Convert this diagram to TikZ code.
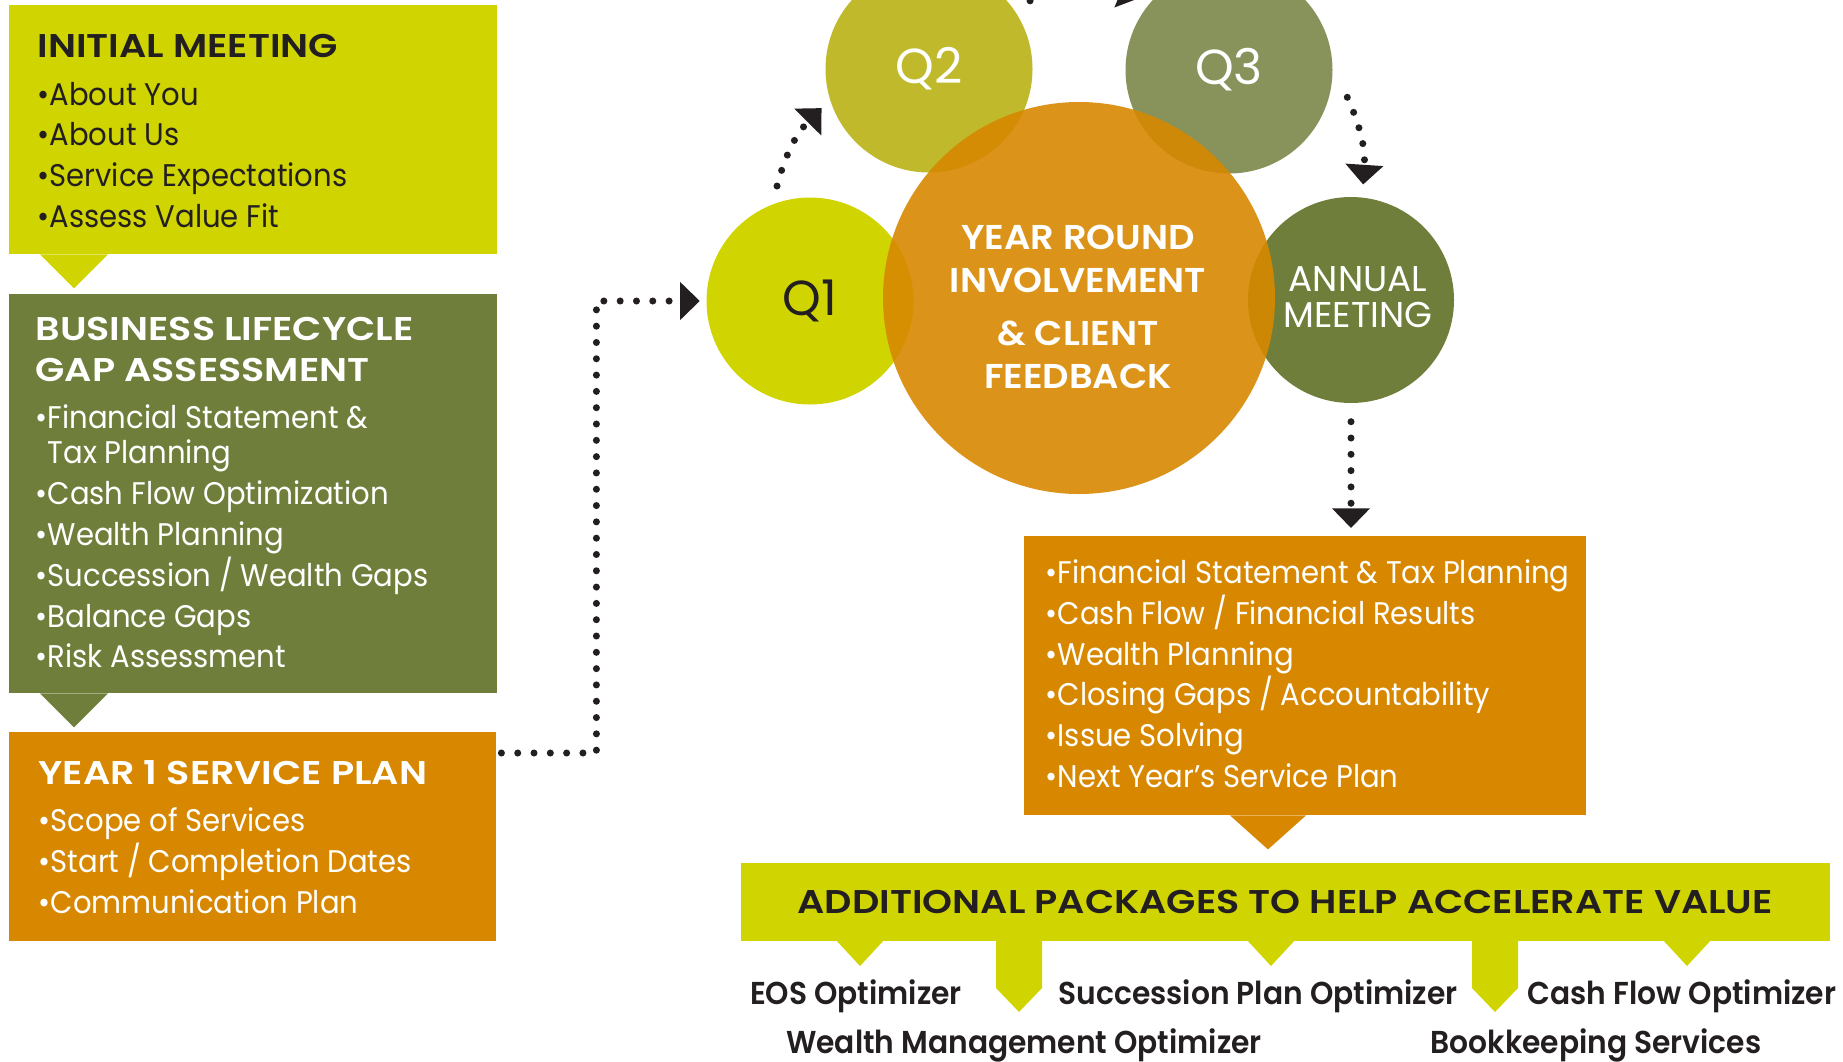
\documentclass[tikz,border=0pt]{standalone}
\usepackage{fontspec}
\setmainfont{Poppins}[FakeStretch=0.93]
\newfontfamily\plainfont{Poppins}
\newfontfamily\headfont{Poppins SemiBold}[FakeStretch=1.16]
\newfontfamily\hubfont{Poppins SemiBold}[FakeStretch=1.07]
\newfontfamily\tagfont{Poppins SemiBold}[FakeStretch=0.94]
\usetikzlibrary{arrows.meta,calc,positioning}

\definecolor{lime}{HTML}{D0D400}
\definecolor{olive}{HTML}{6F7F3B}
\definecolor{amber}{HTML}{D78800}
\definecolor{mustard}{HTML}{BFB92B}
\definecolor{sage}{HTML}{87935A}
\definecolor{ink}{HTML}{231F20}

\tikzset{
  panel/.style={rectangle, anchor=north west, inner sep=0pt},
  boxtext/.style={anchor=north west, inner sep=0pt, align=left, font=\fontsize{8.9}{11.6}\selectfont},
  ball/.style={circle, inner sep=0pt},
  quarter/.style={ball, minimum size=20.7mm, font=\plainfont\fontsize{14}{14}\selectfont},
  flow/.style={ink, line width=2pt, line cap=round, dash pattern=on 0pt off 4.64pt,
    -{Triangle[length=5.6pt,width=10.5pt]}},
  tag/.style={anchor=base, text=ink, font=\tagfont\fontsize{9}{10}\selectfont},
}
\newcommand{\boxtitle}[1]{{\headfont\fontsize{9.35}{11.6}\selectfont #1}}

\begin{document}
\begin{tikzpicture}[x=0.1mm, y=-0.1mm]
    \useasboundingbox (0,0) rectangle (1843,1061);
    \clip (0,0) rectangle (1843,1061);

    % left column
    \node[panel, fill=lime, minimum width=48.8mm, minimum height=24.9mm] (meet) at (8,4) {};
    \fill[lime] ([xshift=3.2mm]meet.south west) -- ++(34,34) -- ++(34,-34) -- cycle;
    \node[boxtext, text=ink] (meettext) at (37,34)
        {\boxtitle{INITIAL MEETING}\\[1.8pt]•About You\\•About Us\\•Service Expectations\\•Assess Value Fit};

    \node[panel, fill=olive, minimum width=48.8mm, minimum height=39.9mm] (gap) at (8,293) {};
    \fill[olive] ([xshift=3.2mm]gap.south west) -- ++(34,34) -- ++(34,-34) -- cycle;
    \node[boxtext, text=white] (gaptext) at (35,317)
        {\boxtitle{BUSINESS LIFECYCLE}\\\boxtitle{GAP ASSESSMENT}\\[1.8pt]•Financial Statement \&\\[-1.6pt]
         \hphantom{•}Tax Planning\\•Cash Flow Optimization\\•Wealth Planning\\•Succession / Wealth Gaps\\
         •Balance Gaps\\•Risk Assessment};

    \node[panel, fill=amber, minimum width=48.7mm, minimum height=20.9mm] (plan) at (8,731) {};
    \node[boxtext, text=white] (plantext) at (38,760)
        {\boxtitle{YEAR 1 SERVICE PLAN}\\[1.8pt]•Scope of Services\\•Start / Completion Dates\\•Communication Plan};

    % review box and packages
    \node[panel, fill=amber, minimum width=56.2mm, minimum height=27.9mm] (review) at (1023,535) {};
    \fill[amber] ([xshift=20.7mm]review.south west) -- ++(38,34) -- ++(38,-34) -- cycle;
    \node[boxtext, text=white] (reviewtext) at (1045,559)
        {•Financial Statement \& Tax Planning\\•Cash Flow / Financial Results\\•Wealth Planning\\
         •Closing Gaps / Accountability\\•Issue Solving\\•Next Year’s Service Plan};

    \node[panel, fill=lime, minimum width=108.9mm, minimum height=7.8mm, text=ink,
        font=\headfont\fontsize{9.35}{10}\selectfont] (extras) at (740,862)
        {\raisebox{-0.6pt}{ADDITIONAL PACKAGES TO HELP ACCELERATE VALUE}};
    \foreach \px in {860,1271,1687}
        \fill[lime] (\px-25,939) -- (\px,966) -- (\px+25,939) -- cycle;
    \foreach \px in {1019,1495}
        \fill[lime] (\px-23,939) -- (\px-23,988) -- (\px,1012) -- (\px+23,988) -- (\px+23,939) -- cycle;

    \node[tag] (eos) at (856,1004) {EOS Optimizer};
    \node[tag] (succ) at (1258,1004) {Succession Plan Optimizer};
    \node[tag] (cash) at (1682,1004) {Cash Flow Optimizer};
    \node[tag] (wealth) at (1024,1053) {Wealth Management Optimizer};
    \node[tag] (books) at (1596,1053) {Bookkeeping Services};

    % circles
    \node[quarter, fill=mustard, text=white] (q2) at (929,69) {Q2};
    \node[quarter, fill=sage, text=white] (q3) at (1229,70) {Q3};
    \node[quarter, fill=lime, text=ink] (q1) at (810,301) {Q1};
    \node[ball, fill=olive, minimum size=20.6mm] (annual) at (1351,300) {};
    \node[inner sep=0pt, text=white, align=center, font=\plainfont\fontsize{10.2}{10.2}\selectfont]
        (annualtext) at (1358,297) {ANNUAL\\MEETING};
    \node[ball, fill=amber, fill opacity=0.9, minimum size=39.2mm] (hub) at (1079,298) {};
    \node[inner sep=0pt, text=white, align=center, font=\hubfont\fontsize{9.8}{12.2}\selectfont]
        (hubtext) at (1078,307) {YEAR ROUND\\INVOLVEMENT\\[3.1pt]\& CLIENT\\FEEDBACK};

    % dotted arrows
    \draw[flow] ([xshift=0.5mm,yshift=-2.2mm]plan.north east) -- ++(95,0) |- ([xshift=-0.6mm]q1.west);
    \draw[flow] ($(q1)!1.148!(q1.106)$) to[bend left=15] ($(q2)!1.097!(q2.200)$);
    \draw[flow] ($(q2)!1.17!(q2.34)$) to[bend left=25] ($(q3)!1.10!(q3.141)$);
    \draw[flow] ($(q3)!1.165!(q3.-13)$) to[bend left=14] ($(annual)!1.12!(annual.84)$);
    \draw[flow, shorten <=1.8mm, shorten >=0.7mm] (annual.south) -- (annual.south |- review.north);
\end{tikzpicture}
\end{document}
